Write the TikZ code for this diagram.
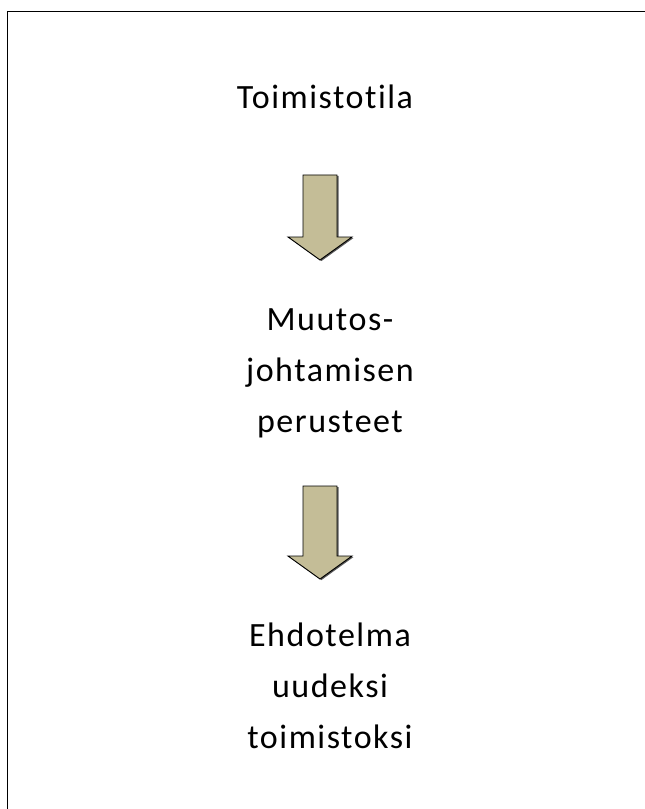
\documentclass[tikz,border=0pt]{standalone}
\usepackage{fontspec}
\setmainfont{Carlito}[LetterSpace=4.5, Ligatures={NoCommon}]
\definecolor{tan}{RGB}{196,189,151}
\definecolor{shade}{RGB}{90,90,90}
\tikzset{
  lbl/.style={anchor=base, align=center, inner sep=0pt, font=\fontsize{25.5}{38.25}\selectfont},
  arrowfill/.style={fill=tan, draw=black, line width=0.7pt, line join=miter},
  arrowshadow/.style={fill=shade, draw=none},
}
\newcommand{\downarrowshape}[2]{% #1 = top y, #2 = shoulder y, tip = shoulder+23
  \fill[arrowshadow] (304.5,#1+1) -- (338.5,#1+1) -- (338.5,#2+1) -- (353.5,#2+1) -- (321.5,#2+24) -- (289.5,#2+1) -- (304.5,#2+1) -- cycle;
  \filldraw[arrowfill] (303,#1) -- (337,#1) -- (337,#2) -- (352,#2) -- (320,#2+23) -- (288,#2) -- (303,#2) -- cycle;
}
\begin{document}
\begin{tikzpicture}[x=0.75pt,y=-0.75pt]
\useasboundingbox (0,0) rectangle (645,809);
\begin{scope}
\clip (0,0) rectangle (645,809);
\draw[line width=1.3pt] (7.5,830) -- (7.5,11.5) -- (670,11.5);
\end{scope}
\node[lbl] (a) at (325,109) {Toimistotila};
\node[lbl] (b) at (330,432) {Muutos-\\johtamisen\\perusteet};
\node[lbl] (c) at (330,748) {Ehdotelma\\uudeksi\\toimistoksi};
\downarrowshape{175}{237}
\downarrowshape{486}{556}
\end{tikzpicture}
\end{document}
